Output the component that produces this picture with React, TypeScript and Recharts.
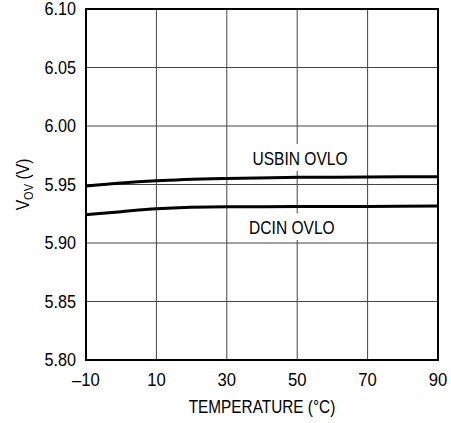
import React from 'react';
import { LineChart, Line, XAxis, YAxis, CartesianGrid, ReferenceArea, ReferenceDot, Label } from 'recharts';

const temps = [-10, 0, 10, 30, 50, 70, 90];
const usbinOvlo = [5.9487, 5.9513, 5.9532, 5.9552, 5.9561, 5.9564, 5.9567];
const dcinOvlo = [5.9242, 5.9268, 5.9292, 5.931, 5.9311, 5.9313, 5.9316];
const xTicks = [-10, 10, 30, 50, 70, 90];
const yTicks = [5.8, 5.85, 5.9, 5.95, 6.0, 6.05, 6.1];

const data = temps.map((t, i) => ({ temp: t, usbin: usbinOvlo[i], dcin: dcinOvlo[i] }));

// Liberation Sans squeezed horizontally to look like a condensed Helvetica
const FONT = '"Liberation Sans", Arial, sans-serif';

const XTick = (props: any) => {
  const { x, y, payload } = props;
  return (
    <text transform={`translate(${x},${y}) scale(0.9,1)`} textAnchor="middle" dy="0.71em" fontSize={18.5} fontFamily={FONT} fill="#000">
      {String(payload.value).replace('-', '\u2013')}
    </text>
  );
};

const YTick = (props: any) => {
  const { x, y, payload } = props;
  return (
    <text transform={`translate(${x},${y}) scale(0.9,1)`} textAnchor="end" dy="0.355em" fontSize={18} fontFamily={FONT} fill="#000">
      {Number(payload.value).toFixed(2)}
    </text>
  );
};

// label drawn on a white box so the gridline behind it is hidden
const boxLabel = (text: string, w: number) => (props: any) => {
  const { viewBox } = props;
  const cx = viewBox.x + (viewBox.width || 0) / 2;
  const cy = viewBox.y + (viewBox.height || 0) / 2;
  return (
    <g>
      <rect x={cx - w / 2} y={cy - 14} width={w} height={27} fill="#fff" />
      <text transform={`translate(${cx},${cy}) scale(0.82,1)`} dy="0.36em" textAnchor="middle" fontSize={19} fontFamily={FONT} fill="#000">
        {text}
      </text>
    </g>
  );
};

const XLabel = (props: any) => {
  const { viewBox } = props;
  const cx = viewBox.x + viewBox.width / 2;
  const by = viewBox.y + viewBox.height - 10;
  return (
    <text transform={`translate(${cx},${by}) scale(0.83,1)`} textAnchor="middle" fontSize={18.5} fontFamily={FONT} fill="#000">
      TEMPERATURE (°C)
    </text>
  );
};

const YLabel = (props: any) => {
  const { viewBox } = props;
  const cx = viewBox.x + 29;
  const cy = viewBox.y + viewBox.height / 2;
  return (
    <text transform={`translate(${cx},${cy}) rotate(-90) scale(0.85,1)`} textAnchor="middle" fontSize={18.5} fontFamily={FONT} fill="#000">
      V
      <tspan dy={4} fontSize={13}>OV</tspan>
      <tspan dy={-4}> (V)</tspan>
    </text>
  );
};

const App: React.FC = () => {
  return (
    <div style={{ position: 'absolute', left: 0, top: 0, background: '#fff' }}>
      <LineChart width={451} height={423} data={data} margin={{ top: 9, right: 13, left: 0, bottom: 0 }}>
        <CartesianGrid stroke="#444" strokeWidth={1} vertical horizontal />
        <XAxis
          type="number"
          dataKey="temp"
          domain={[-10, 90]}
          ticks={xTicks}
          height={63}
          axisLine={false}
          tickLine={false}
          tickMargin={7}
          tick={<XTick />}
          interval={0}
        >
          <Label content={<XLabel />} />
        </XAxis>
        <YAxis
          type="number"
          domain={[5.8, 6.1]}
          ticks={yTicks}
          width={86}
          axisLine={false}
          tickLine={false}
          tickMargin={4}
          tick={<YTick />}
          interval={0}
        >
          <Label content={<YLabel />} />
        </YAxis>
        <ReferenceDot x={50.8} y={5.9727} r={0} fill="none" stroke="none" ifOverflow="visible">
          <Label content={boxLabel('USBIN OVLO', 30)} />
        </ReferenceDot>
        <ReferenceDot x={48.5} y={5.9137} r={0} fill="none" stroke="none" ifOverflow="visible">
          <Label content={boxLabel('DCIN OVLO', 30)} />
        </ReferenceDot>
        <Line type="monotone" dataKey="usbin" stroke="#000" strokeWidth={3} dot={false} isAnimationActive={false} />
        <Line type="monotone" dataKey="dcin" stroke="#000" strokeWidth={3} dot={false} isAnimationActive={false} />
        <ReferenceArea x1={-10} x2={90} y1={5.8} y2={6.1} fill="none" stroke="#000" strokeWidth={2} ifOverflow="visible" />
      </LineChart>
    </div>
  );
};

export default App;
